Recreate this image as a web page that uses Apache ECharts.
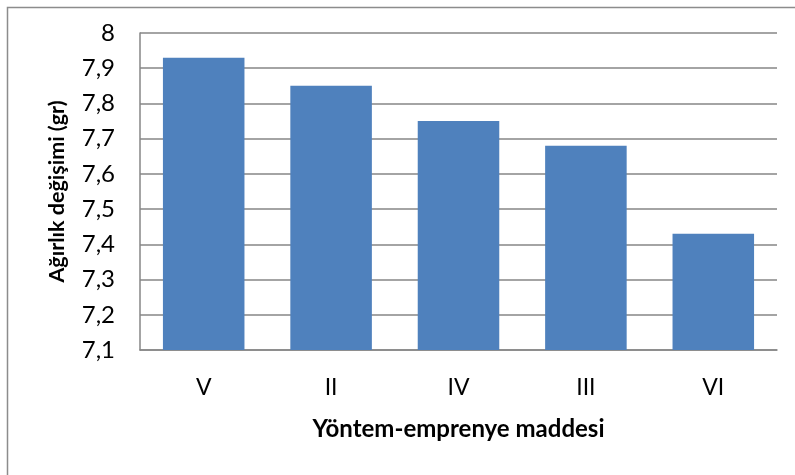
<!DOCTYPE html>
<html>
<head>
<meta charset="utf-8">
<script src="https://cdn.jsdelivr.net/npm/echarts@6/dist/echarts.min.js"></script>
<style>
  html, body { margin: 0; padding: 0; background: #fff; }
  #main { width: 795px; height: 475px; }
</style>
</head>
<body>
<div id="main"></div>
<script>
// chart data
const categories = ['V', 'II', 'IV', 'III', 'VI'];
const values = [7.93, 7.85, 7.75, 7.68, 7.43];
const yMin = 7.1;
const yMax = 8;
const yStep = 0.1;

const font = 'Lato, "Liberation Sans", sans-serif';
const chart = echarts.init(document.getElementById('main'));

chart.setOption({
    animation: false,
    backgroundColor: '#fff',
    graphic: [{
        type: 'rect',
        shape: {x: 7.5, y: 7.5, width: 800, height: 470},
        style: {fill: 'none', stroke: '#8c8c8c', lineWidth: 1.5}
    }],
    grid: {left: 140, top: 33, width: 637, height: 317},
    xAxis: {
        type: 'category',
        data: categories,
        name: 'Yöntem-emprenye maddesi',
        nameLocation: 'middle',
        nameGap: 67,
        nameMoveOverlap: false,
        nameTextStyle: {fontFamily: font, fontWeight: 'bold', fontSize: 24, color: '#000'},
        axisLine: {lineStyle: {color: '#868686', width: 1.5}},
        axisTick: {show: false},
        axisLabel: {fontFamily: font, fontSize: 23, color: '#000', margin: 26}
    },
    yAxis: {
        type: 'value',
        min: yMin,
        max: yMax,
        interval: yStep,
        name: 'Ağırlık değişimi (gr)',
        nameLocation: 'middle',
        nameGap: 72,
        nameMoveOverlap: false,
        nameTextStyle: {fontFamily: font, fontWeight: 'bold', fontSize: 21.5, color: '#000'},
        axisLine: {show: true, lineStyle: {color: '#868686', width: 1.5}},
        axisTick: {show: false},
        splitLine: {lineStyle: {color: '#868686', width: 1.5}},
        axisLabel: {
            fontFamily: font, fontSize: 24, color: '#000', margin: 25,
            formatter: v => (Math.round(v * 10) / 10).toString().replace('.', ',')
        }
    },
    series: [{
        type: 'bar',
        data: values,
        barCategoryGap: '36%',
        itemStyle: {color: '#4f81bd'}
    }]
});
</script>
</body>
</html>
